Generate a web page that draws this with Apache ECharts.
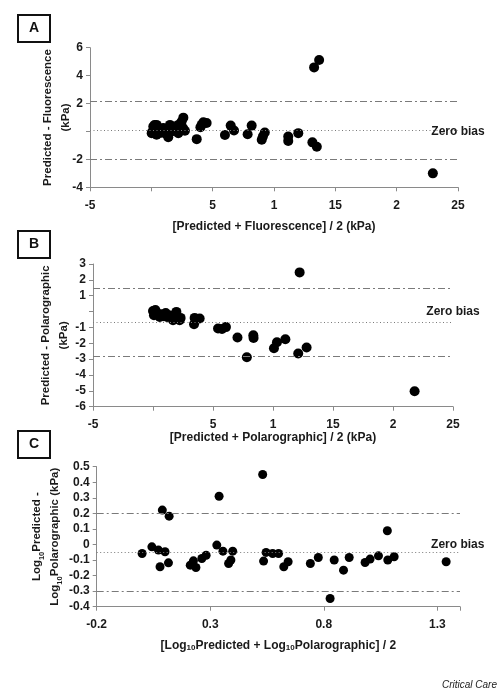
<!DOCTYPE html>
<html>
<head>
<meta charset="utf-8">
<script src="https://cdn.jsdelivr.net/npm/echarts@6/dist/echarts.min.js"></script>
<style>
html,body{margin:0;padding:0;background:#fff;}
#chart{width:500px;height:692px;}
</style>
</head>
<body>
<div id="chart"></div>
<script>
// ---------- Panel A data: [Predicted + Fluorescence]/2 vs Predicted - Fluorescence ----------
const aX = [0.03,0.1,0.16,0.26,0.43,0.43,0.70,0.8,0.97,1.1,1.25,1.38,1.52,1.66,1.93,2.0,2.2,2.2,2.47,2.58,2.61,2.74,3.70,4.0,4.10,4.24,4.51,6.0,6.47,6.74,7.85,8.18,9.0,9.1,9.25,11.16,11.16,11.98,13.13,13.49,13.27,13.68,22.95];
const aY = [-0.12,0.0,0.35,0.46,0.47,-0.23,0.0,-0.1,0.24,0.1,-0.19,-0.42,0.47,0.0,0.24,0.1,0.47,-0.12,0.71,0.25,0.99,0.05,-0.55,0.3,0.47,0.66,0.61,-0.25,0.42,0.07,-0.2,0.42,-0.6,-0.35,-0.08,-0.36,-0.68,-0.12,-0.78,-1.09,4.59,5.12,-3.0];
const aLimits = [2.15, 0.07, -2.0];     // upper LoA, mean bias, lower LoA
const aXTicks = ['-5','','5','1','15','2','25'];
const aYTicks = ['-4','-2','','2','4','6'];

// ---------- Panel B data: [Predicted + Polarographic]/2 vs Predicted - Polarographic ----------
const bX = [0.0,0.08,0.2,0.33,0.56,0.7,0.85,1.06,1.17,1.45,1.67,1.95,2.0,2.22,2.3,3.42,3.47,3.89,5.42,5.75,6.08,7.04,7.82,8.36,8.38,10.08,10.33,11.03,12.1,12.22,12.8,21.8];
const bY = [0.04,-0.23,0.1,-0.09,-0.34,-0.17,-0.3,-0.09,-0.34,-0.25,-0.55,-0.02,-0.34,-0.55,-0.4,-0.8,-0.4,-0.44,-1.07,-1.1,-0.98,-1.64,-2.88,-1.5,-1.67,-2.31,-1.94,-1.75,-2.65,2.47,-2.27,-5.02];
const bLimits = [1.5, -0.65, -2.82];
const bXTicks = ['-5','','5','1','15','2','25'];
const bYTicks = ['-6','-5','-4','-3','-2','-1','','1','2','3'];

// ---------- Panel C data: log10 mean vs log10 difference ----------
const cX = [0.0,0.043,0.072,0.079,0.089,0.101,0.119,0.116,0.212,0.226,0.237,0.263,0.282,0.329,0.339,0.356,0.381,0.391,0.399,0.531,0.535,0.546,0.575,0.601,0.624,0.643,0.741,0.776,0.828,0.846,0.887,0.912,0.982,1.004,1.041,1.08,1.082,1.11,1.339];
const cY = [-0.058,-0.015,-0.036,-0.143,0.221,-0.047,0.182,-0.118,-0.133,-0.105,-0.148,-0.09,-0.069,-0.004,0.31,-0.043,-0.122,-0.10,-0.043,0.45,-0.107,-0.051,-0.058,-0.058,-0.143,-0.111,-0.122,-0.084,-0.347,-0.10,-0.165,-0.084,-0.116,-0.094,-0.073,0.088,-0.10,-0.079,-0.111];
const cLimits = [0.205, -0.05, -0.305];
const cXTicks = ['-0.2','0.3','0.8','1.3'];
const cYTicks = ['-0.4','-0.3','-0.2','-0.1','0','0.1','0.2','0.3','0.4','0.5'];

const FONT = '"Liberation Sans", Arial, sans-serif';
const TXT = '#1a1a1a';
const AXC = '#8a8a8a';
const LINEC = '#7a7a7a';

function zip(xs, ys){ return xs.map((x,i)=>[x, ys[i]]); }
function tickFmt(labels, min, step){
  return function(v){
    const i = Math.round((v - min) / step);
    if (Math.abs(min + i*step - v) > step*0.01) return '';
    return labels[i] !== undefined ? labels[i] : '';
  };
}
function xAxisCfg(idx, min, max, step, labels, name, gap){
  return {
    gridIndex: idx, type: 'value', min: min, max: max, interval: step,
    splitLine: {show:false},
    axisLine: {show:true, onZero:false, lineStyle:{color:AXC, width:1}},
    axisTick: {show:true, inside:false, length:4, lineStyle:{color:AXC}},
    axisLabel: {formatter: tickFmt(labels, min, step), color:TXT, fontFamily:FONT, fontWeight:'bold', fontSize:12, margin:12},
    name: name, nameLocation:'middle', nameGap: gap, nameMoveOverlap:false,
    nameTextStyle: {color:TXT, fontFamily:FONT, fontWeight:'bold', fontSize:12,
      rich:{n:{fontFamily:FONT,fontWeight:'bold',fontSize:12,color:TXT}, s:{fontFamily:FONT,fontWeight:'bold',fontSize:8,color:TXT,verticalAlign:'bottom',lineHeight:10}}}
  };
}
function yAxisCfg(idx, min, max, step, labels, name, gap){
  return {
    gridIndex: idx, type: 'value', min: min, max: max, interval: step,
    splitLine: {show:false},
    axisLine: {show:true, onZero:false, lineStyle:{color:AXC, width:1}},
    axisTick: {show:true, inside:false, length:4, lineStyle:{color:AXC}},
    axisLabel: {formatter: tickFmt(labels, min, step), color:TXT, fontFamily:FONT, fontWeight:'bold', fontSize:12, margin:7},
    name: name, nameLocation:'middle', nameGap: gap, nameRotate: 90, nameMoveOverlap:false,
    nameTextStyle: {color:TXT, fontFamily:FONT, fontWeight:'bold', fontSize:11.5, lineHeight:18, align:'center',
      rich:{n:{fontFamily:FONT,fontWeight:'bold',fontSize:11.5,color:TXT,lineHeight:18}, s:{fontFamily:FONT,fontWeight:'bold',fontSize:7.5,color:TXT,verticalAlign:'bottom',lineHeight:14}}}
  };
}
function seriesCfg(idx, data, size, limits, biasAnchor){
  const dashDot = [7,3,2,3];
  return {
    type:'scatter', xAxisIndex: idx, yAxisIndex: idx, data: data,
    symbol:'circle', symbolSize: size, itemStyle:{color:'#000', opacity:1},
    silent:true,
    markLine:{
      silent:true, symbol:['none','none'], label:{show:false}, animation:false,
      data:[
        {yAxis: limits[0], lineStyle:{color:LINEC, width:1, type:dashDot}},
        {yAxis: limits[1], lineStyle:{color:LINEC, width:1, type:[1,2.5]}},
        {yAxis: limits[2], lineStyle:{color:LINEC, width:1, type:dashDot}}
      ]
    },
    markPoint:{
      silent:true, symbol:'circle', symbolSize:0, animation:false,
      label:{show:true, position:'inside', formatter:'Zero bias', color:TXT, fontFamily:FONT, fontWeight:'bold', fontSize:12},
      data:[{coord: biasAnchor}]
    }
  };
}
function letterBox(y, letter){
  return {
    type:'group', left:17, top:y,
    children:[
      {type:'rect', shape:{x:0,y:0,width:32,height:27}, style:{fill:'#fff', stroke:'#111', lineWidth:2}},
      {type:'text', x:16, y:13.5, style:{text:letter, fill:'#111', font:'bold 14px '+FONT, textAlign:'center', textVerticalAlign:'middle'}}
    ]
  };
}

const chart = echarts.init(document.getElementById('chart'), null, {renderer:'canvas'});
chart.setOption({
  animation:false,
  backgroundColor:'#fff',
  grid:[
    {left:90, right:42, top:47.7, height:139.6},
    {left:93, right:47, top:264, height:142.7},
    {left:96.7, right:40, top:466.7, height:140}
  ],
  xAxis:[
    xAxisCfg(0, -5, 25, 5, aXTicks, '[Predicted + Fluorescence] / 2 (kPa)', 33),
    xAxisCfg(1, -5, 25, 5, bXTicks, '[Predicted + Polarographic] / 2 (kPa)', 25),
    xAxisCfg(2, -0.2, 1.4, 0.5, cXTicks, '{n|[Log}{s|10}{n|Predicted + Log}{s|10}{n|Polarographic] / 2}', 33)
  ],
  yAxis:[
    yAxisCfg(0, -4, 6, 2, aYTicks, 'Predicted - Fluorescence\n(kPa)', 15),
    yAxisCfg(1, -6, 3, 1, bYTicks, 'Predicted - Polarographic\n(kPa)', 20),
    yAxisCfg(2, -0.4, 0.5, 0.1, cYTicks, '{n|Log}{s|10}{n|Predicted -}\n{n|Log}{s|10}{n|Polarographic (kPa)}', 33)
  ],
  series:[
    seriesCfg(0, zip(aX, aY), 10, aLimits, [25, 0]),
    seriesCfg(1, zip(bX, bY), 10, bLimits, [25, 0]),
    seriesCfg(2, zip(cX, cY), 9, cLimits, [1.39, 0])
  ],
  graphic:[
    letterBox(14, 'A'),
    letterBox(230, 'B'),
    letterBox(430, 'C'),
    {type:'text', right:3, top:680, style:{text:'Critical Care', fill:'#222', font:'italic 10px '+FONT}}
  ]
});
</script>
</body>
</html>
